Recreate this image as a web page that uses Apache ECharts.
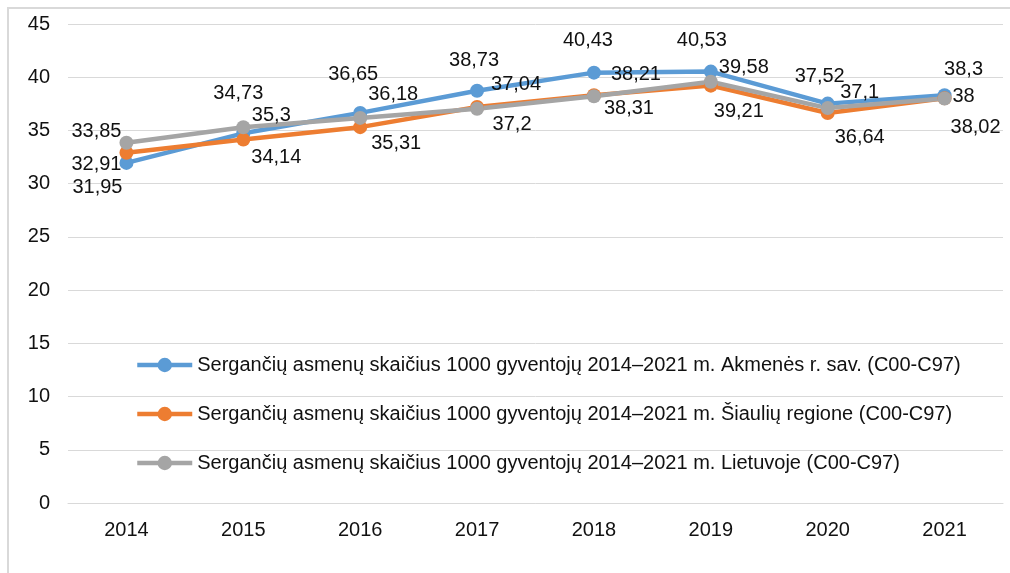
<!DOCTYPE html>
<html>
<head>
    <meta charset="utf-8">
    <title>Sergančių asmenų skaičius</title>
    <script src="https://cdn.jsdelivr.net/npm/echarts@6/dist/echarts.min.js"></script>
    <style>
        html, body { margin: 0; padding: 0; background: #fff; }
        #main { width: 1010px; height: 573px; }
    </style>
</head>
<body>
<div id="main"></div>
<script>
    var years = ['2014', '2015', '2016', '2017', '2018', '2019', '2020', '2021'];
    var akmene = [31.95, 34.73, 36.65, 38.73, 40.43, 40.53, 37.52, 38.3];
    var siauliai = [32.91, 34.14, 35.31, 37.2, 38.31, 39.21, 36.64, 38.02];
    var lietuva = [33.85, 35.3, 36.18, 37.04, 38.21, 39.58, 37.1, 38];
    var names = [
        'Sergančių asmenų skaičius 1000 gyventojų 2014–2021 m. Akmenės r. sav. (C00-C97)',
        'Sergančių asmenų skaičius 1000 gyventojų 2014–2021 m. Šiaulių regione (C00-C97)',
        'Sergančių asmenų skaičius 1000 gyventojų 2014–2021 m. Lietuvoje (C00-C97)'
    ];

    // label offsets (px) from each point, copied from the excel layout
    var akmeneOff = [[-29, 25], [-5, -40], [-7, -38], [-3, -30], [-6, -32], [-9, -31], [-8, -27], [19, -26]];
    var siauliaiOff = [[-30, 12], [33, 18], [36, 16], [35, 17], [35, 13], [28, 26], [32, 24], [31, 29]];
    var lietuvaOff = [[-30, -11], [28, -12], [33, -23], [39, -24], [42, -22], [33, -14], [32, -16], [19, -2]];

    var font = '"Liberation Sans Narrow", "Arial Narrow", "Liberation Sans", sans-serif';
    var fs = 20;

    function withLabels(vals, offs) {
        return vals.map(function (v, i) {
            return {value: v, label: {offset: offs[i]}};
        });
    }

    function makeSeries(name, vals, offs, color) {
        return {
            name: name,
            type: 'line',
            data: withLabels(vals, offs),
            symbol: 'circle',
            symbolSize: 14,
            lineStyle: {width: 4.5, color: color},
            itemStyle: {color: color},
            label: {
                show: true,
                position: 'inside',
                fontFamily: font,
                fontSize: fs,
                color: '#111',
                formatter: function (p) {
                    return String(p.value).replace('.', ',');
                }
            },
            emphasis: {disabled: true}
        };
    }

    var chart = echarts.init(document.getElementById('main'));
    chart.setOption({
        animation: false,
        textStyle: {fontFamily: font},
        graphic: [{
            type: 'rect',
            shape: {x: 8, y: 8, width: 1100, height: 700},
            style: {fill: 'none', stroke: '#d9d9d9', lineWidth: 2},
            silent: true
        }],
        grid: {left: 68, right: 7, top: 24, bottom: 70},
        legend: {
            orient: 'vertical',
            left: 130,
            top: 350,
            itemWidth: 55,
            itemHeight: 18,
            itemGap: 29,
            lineStyle: {width: 4.5},
            textStyle: {fontFamily: font, fontSize: fs, color: '#111'},
            data: names
        },
        xAxis: {
            type: 'category',
            data: years,
            axisLine: {lineStyle: {color: '#d9d9d9'}},
            axisTick: {show: false},
            axisLabel: {fontFamily: font, fontSize: fs, color: '#111', margin: 17}
        },
        yAxis: {
            type: 'value',
            min: 0,
            max: 45,
            interval: 5,
            axisLine: {show: false},
            axisTick: {show: false},
            axisLabel: {fontFamily: font, fontSize: fs, color: '#111', margin: 18},
            splitLine: {lineStyle: {color: '#d9d9d9', width: 1}}
        },
        series: [
            makeSeries(names[0], akmene, akmeneOff, '#5B9BD5'),
            makeSeries(names[1], siauliai, siauliaiOff, '#ED7D31'),
            makeSeries(names[2], lietuva, lietuvaOff, '#A5A5A5')
        ]
    });
</script>
</body>
</html>
